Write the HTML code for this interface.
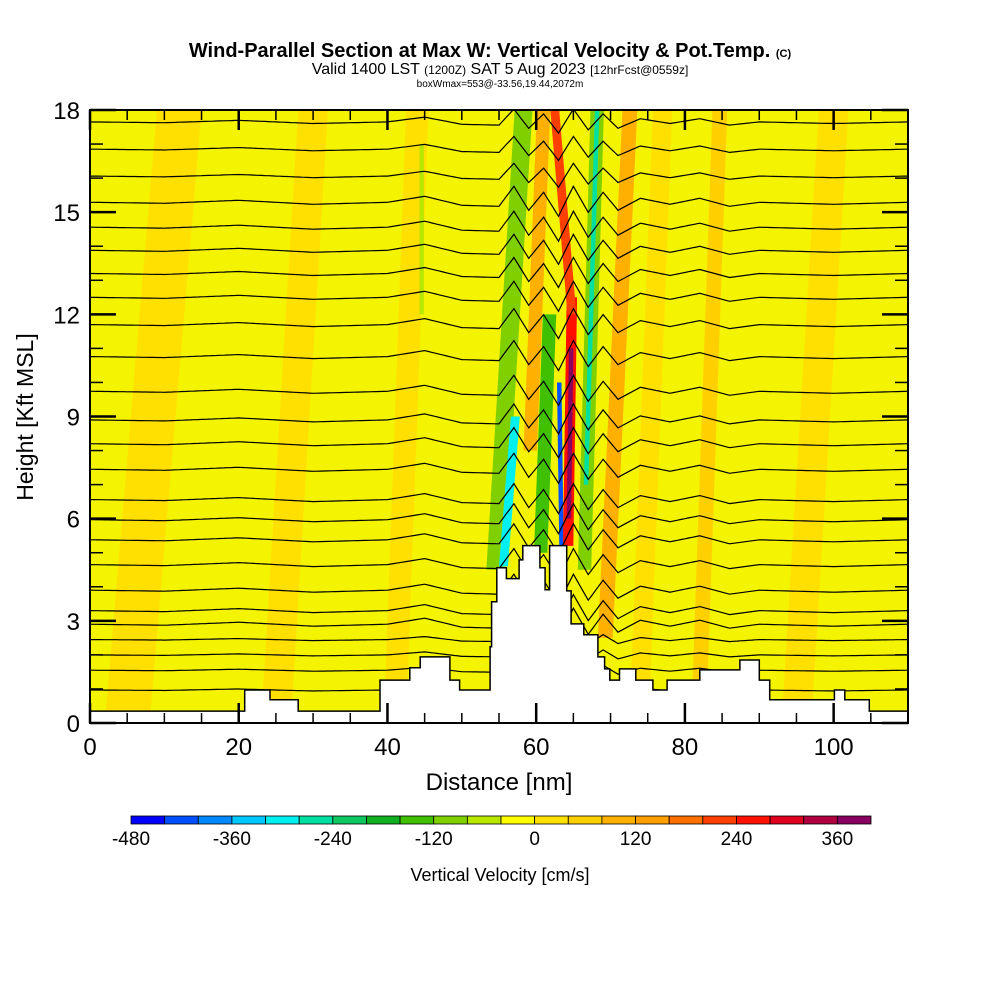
<!DOCTYPE html>
<html><head><meta charset="utf-8"><style>
body{margin:0;background:#fff}
svg text{font-family:"Liberation Sans",Arial,sans-serif}
</style></head><body>
<svg id="chart" width="1000" height="1000" viewBox="0 0 1000 1000" xmlns="http://www.w3.org/2000/svg">
<text x="490" y="57" text-anchor="middle" font-size="20" font-weight="bold">Wind-Parallel Section at Max W: Vertical Velocity &amp; Pot.Temp. <tspan font-size="11">(C)</tspan></text>
<text x="500" y="74" text-anchor="middle" font-size="16">Valid 1400 LST <tspan font-size="12">(1200Z)</tspan> SAT 5 Aug 2023 <tspan font-size="12">[12hrFcst@0559z]</tspan></text>
<text x="500" y="87" text-anchor="middle" font-size="10">boxWmax=553@-33.56,19.44,2072m</text>
<defs><clipPath id="pc"><rect x="90" y="110" width="818" height="613"/></clipPath></defs>
<g id="plot" clip-path="url(#pc)">
<rect x="90" y="110" width="818" height="613" fill="#f4f400"/>
<g id="bands"></g><g id="contours"></g><g id="terrain"></g>
</g>
<rect x="90" y="110" width="818" height="613" fill="none" stroke="#000" stroke-width="2"/>
<g id="axes"></g>
<text transform="translate(33,417) rotate(-90)" text-anchor="middle" font-size="23">Height [Kft MSL]</text>
<text x="499" y="790" text-anchor="middle" font-size="24">Distance [nm]</text>
<g id="cbar"></g>
<text x="500" y="881" text-anchor="middle" font-size="18">Vertical Velocity [cm/s]</text>
</svg>
<script>
const xTicks=[0,20,40,60,80,100];
const yTicks=[0,3,6,9,12,15,18];
const cbarColors=["#0000ff","#0050ff","#0088ff","#00c8ff","#00f0f0","#00e0a0","#10c860","#10b020","#40c000","#80d000","#b8e800","#ffff00","#ffe000","#ffd000","#ffb000","#ffa000","#ff7000","#ff4000","#ff1000","#e00020","#b00040","#880060"];
const cbarLabels=[-480,-360,-240,-120,0,120,240,360];
// terrain steps: [start nm, height kft]
const terrainX=[0,20.8,24.2,28,39,43,44.4,48.4,49.7,53.8,54,54.7,56,57.7,58.2,60.5,61.2,61.8,64.1,64.7,66.4,68.3,69.2,69.9,71.2,73.4,75.7,77.6,82,87.4,90,91.4,100.1,101.5,104.8];
const terrainH=[0.35,0.97,0.68,0.35,1.26,1.62,1.94,1.26,0.97,2.24,3.56,4.56,4.24,4.79,5.21,4.56,3.91,5.21,3.88,2.91,2.59,1.94,1.59,1.26,1.59,1.26,0.97,1.26,1.56,1.85,1.26,0.68,0.97,0.68,0.35];
// isentrope base heights (kft)
const thetaLevels=[17.65,16.85,16.06,15.29,14.56,13.88,13.2,12.5,11.7,10.76,9.74,8.9,8.2,7.45,6.56,5.97,5.38,4.65,3.9,3.3,2.9,2.45,2.0,1.55,0.97];
const dispX=[0,10,20,30,40,45,50,55,57,59,61,63,65,67,69,71,74,78,82,86,90,100,110];
const dispV=[0,1,-2,2,0,-6,3,4,-16,8,-10,14,-16,10,-10,8,-4,2,-4,4,0,2,0];
// w bands: [bottom nm, top nm, half-width nm, bottom kft, top kft, w value]
const bands=[[41,44,1.5,0,18,20],[54.5,58.3,1.2,4.5,18,-90],[55.6,57.2,0.6,4.6,9,-290],[59.2,61,0.9,8,18,90],[60.6,61.8,0.9,5,12,-130],[63.4,63.1,0.3,5.2,10,-420],[64.3,64.8,0.7,5.2,12.5,250],[64.4,64.7,0.3,6,11,370],[64.8,62.5,0.6,12,18,210],[66.5,68.2,0.9,4.5,18,-120],[66.7,68.2,0.3,7,18,-260],[69.3,72.6,1.0,2.5,18,100],[82,84.7,1.0,1,18,50],[44.6,44.6,0.3,12,17,-60],[74,77,1.3,1,18,20],[5,12,3,0,18,20],[95,100,2,0,18,20],[25,30,2,0,18,20]];
const NS='http://www.w3.org/2000/svg';
const X0=90,X1=908,Y0=723,Y1=110;
const xs=v=>X0+(v/110)*(X1-X0);
const ys=v=>Y0-(v/18)*(Y0-Y1);
function colorFor(w){let i=Math.floor((w+480)/40);i=Math.max(0,Math.min(21,i));return cbarColors[i];}
function mk(t,p,a){const e=document.createElementNS(NS,t);for(const k in a)e.setAttribute(k,a[k]);p.appendChild(e);return e;}
const bg=document.getElementById('bands');
bands.forEach((b,i)=>{
 const pts=[[xs(b[0]-b[2]),ys(b[3])],[xs(b[0]+b[2]),ys(b[3])],[xs(b[1]+b[2]),ys(b[4])],[xs(b[1]-b[2]),ys(b[4])]];
 const e=mk('polygon',bg,{points:pts.map(p=>p.join(',')).join(' '),fill:colorFor(b[5])});
 
 
});
function disp(x){for(let i=0;i<dispX.length-1;i++){if(x>=dispX[i]&&x<=dispX[i+1]){const t=(x-dispX[i])/(dispX[i+1]-dispX[i]);return dispV[i]+(dispV[i+1]-dispV[i])*t;}}return 0;}
const cg=document.getElementById('contours');
thetaLevels.forEach((lv,i)=>{
 const amp=lv<2.5?0.5:(lv>16?0.8:1);
 let d='';
 for(let x=0;x<=110;x+=0.5){d+=(x?'L':'M')+xs(x).toFixed(1)+','+(ys(lv)+disp(x)*amp).toFixed(1);}
 const e=mk('path',cg,{d:d,fill:'none',stroke:'#000','stroke-width':1.2});
 
 
});
const tg=document.getElementById('terrain');
let td='M'+xs(0)+','+Y0;
terrainX.forEach((x,i)=>{const x2=i<terrainX.length-1?terrainX[i+1]:110;td+=' L'+xs(x).toFixed(1)+','+ys(terrainH[i]).toFixed(1)+' L'+xs(x2).toFixed(1)+','+ys(terrainH[i]).toFixed(1);});
td+=' L'+X1+','+Y0+' Z';
const te=mk('path',tg,{d:td,fill:'#fff',stroke:'#000','stroke-width':1.5});


const ag=document.getElementById('axes');
for(let v=0;v<=110;v+=5){const maj=v%20===0;const l=maj?20:10;
 mk('line',ag,{x1:xs(v),x2:xs(v),y1:Y0,y2:Y0-l,stroke:'#000','stroke-width':maj?2.5:1.5});
 mk('line',ag,{x1:xs(v),x2:xs(v),y1:Y1,y2:Y1+l,stroke:'#000','stroke-width':maj?2.5:1.5});}
for(let v=0;v<=18;v++){const maj=v%3===0;const l=maj?26:13;
 mk('line',ag,{x1:X0,x2:X0+l,y1:ys(v),y2:ys(v),stroke:'#000','stroke-width':maj?2.5:1.5});
 mk('line',ag,{x1:X1,x2:X1-l,y1:ys(v),y2:ys(v),stroke:'#000','stroke-width':maj?2.5:1.5});}
xTicks.forEach(v=>{const t=mk('text',ag,{x:xs(v),y:755,'text-anchor':'middle','font-size':24});t.textContent=v;
 
 });
yTicks.forEach(v=>{const t=mk('text',ag,{x:80,y:ys(v)+9,'text-anchor':'end','font-size':24});t.textContent=v;
 
 });
const cb=document.getElementById('cbar');
const cw=(871-131)/cbarColors.length;
cbarColors.forEach((c,i)=>{const r=mk('rect',cb,{x:131+i*cw,y:816,width:cw,height:8,fill:c,stroke:'#000','stroke-width':0.8});
 
 });
cbarLabels.forEach(v=>{const t=mk('text',cb,{x:131+(v+480)/40*cw,y:845,'text-anchor':'middle','font-size':19});t.textContent=v;
 
 });
</script>
</body></html>
